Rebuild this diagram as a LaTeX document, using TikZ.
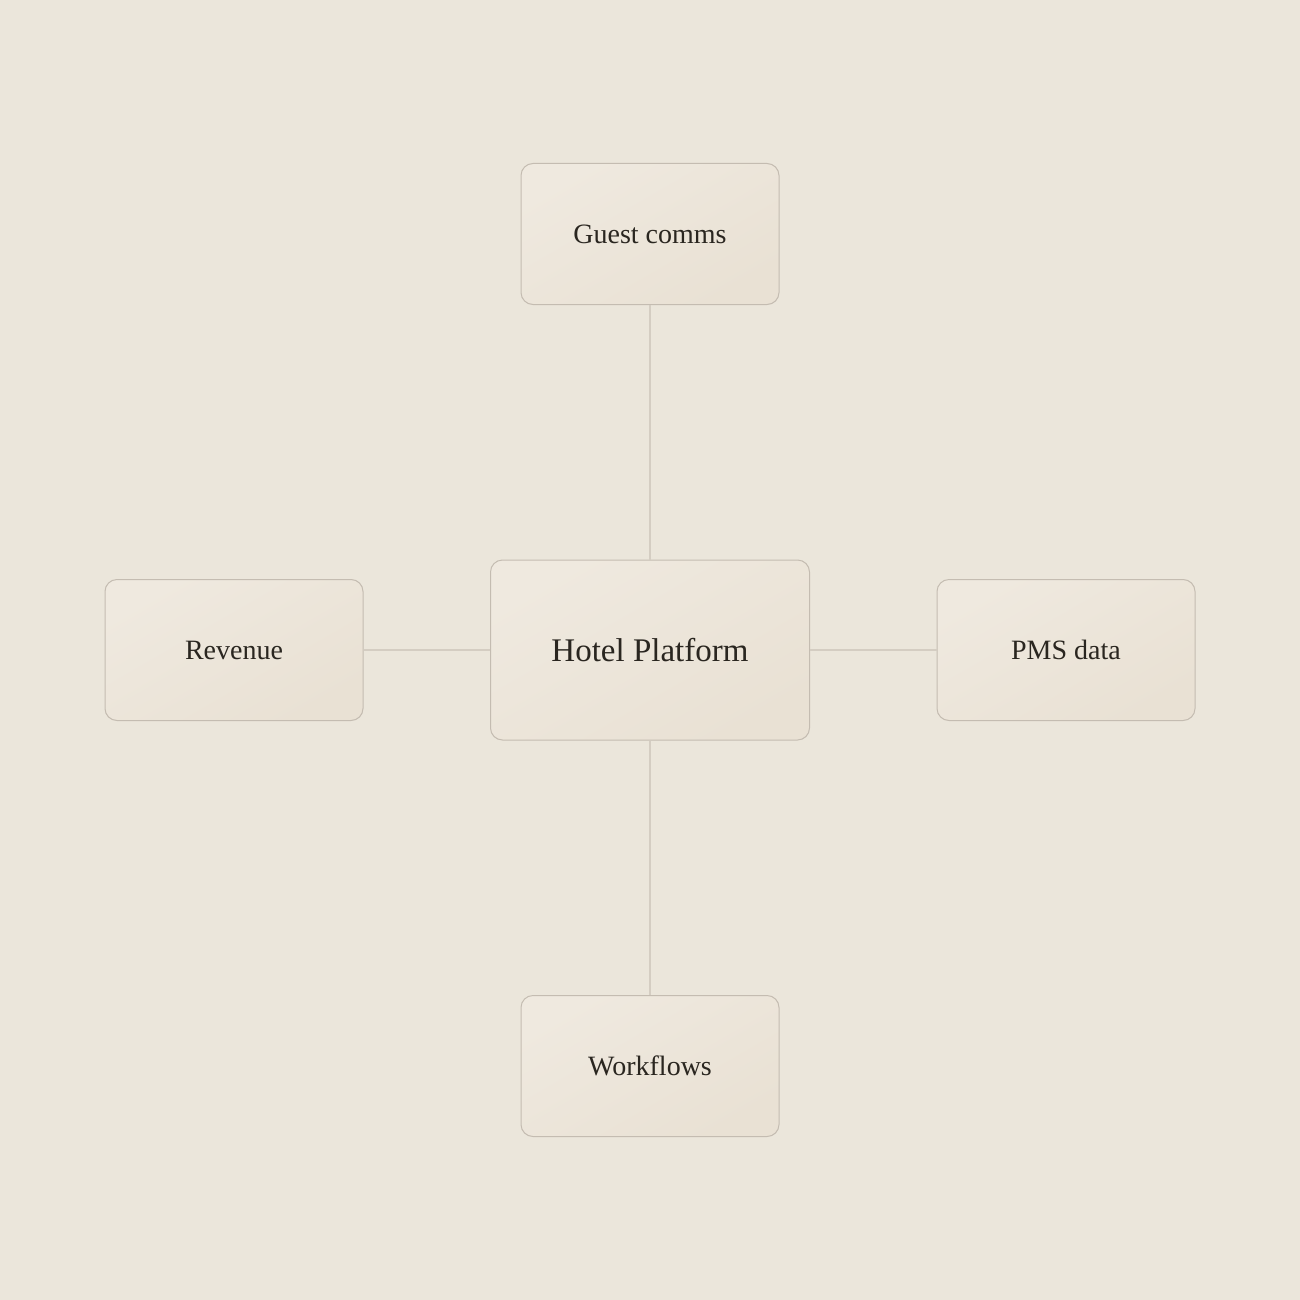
\documentclass[tikz,border=0pt]{standalone}
\usepackage{fontspec}
\setmainfont{Liberation Serif}
\usetikzlibrary{backgrounds}
\definecolor{bgc}{HTML}{EBE6DB}
\definecolor{boxlight}{HTML}{EFE9DF}
\definecolor{boxdark}{HTML}{E9E1D4}
\definecolor{boxedge}{HTML}{C4BCB1}
\definecolor{linkc}{HTML}{D4CDC2}
\definecolor{textc}{HTML}{2A2620}
\definecolor{shadowc}{HTML}{8A7F6E}
\tikzset{
  card/.style={draw=boxedge, line width=1pt, rounded corners=12pt,
    top color=boxlight, bottom color=boxdark, shading angle=30,
    text=textc, inner sep=0pt, align=center},
  sidecard/.style={card, minimum width=258pt, minimum height=141pt,
    font=\fontsize{28}{32}\selectfont},
  hubcard/.style={card, minimum width=319pt, minimum height=180pt,
    font=\fontsize{33}{38}\selectfont},
  link/.style={draw=linkc, line width=1.3pt},
  softshadow/.style={fill=shadowc, fill opacity=0.022, draw=none}
}
\newcommand{\cardshadow}[1]{%
  \foreach \k in {1,...,8}{%
    \fill[softshadow, rounded corners={12pt+\k pt}]
      ([shift={(-\k pt+2pt,-\k pt+3pt)}]#1.north west) rectangle
      ([shift={(\k pt-2pt,\k pt+6pt)}]#1.south east);
  }%
}
\begin{document}
\begin{tikzpicture}[x=1pt,y=-1pt]
\fill[bgc] (0,0) rectangle (1300,1300);
\useasboundingbox (0,0) rectangle (1300,1300);
\node[hubcard] (hub) at (650,650) {Hotel Platform};
\node[sidecard] (top) at (650,234) {Guest comms};
\node[sidecard] (left) at (234,650) {Revenue};
\node[sidecard] (right) at (1066,650) {PMS data};
\node[sidecard] (bottom) at (650,1066) {Workflows};
\begin{scope}[on background layer]
\fill[bgc] (0,0) rectangle (1300,1300);
\cardshadow{hub}
\cardshadow{top}
\cardshadow{left}
\cardshadow{right}
\cardshadow{bottom}
\end{scope}
\draw[link] (top.south) -- (hub.north);
\draw[link] (hub.south) -- (bottom.north);
\draw[link] (left.east) -- (hub.west);
\draw[link] (hub.east) -- (right.west);
\end{tikzpicture}
\end{document}
